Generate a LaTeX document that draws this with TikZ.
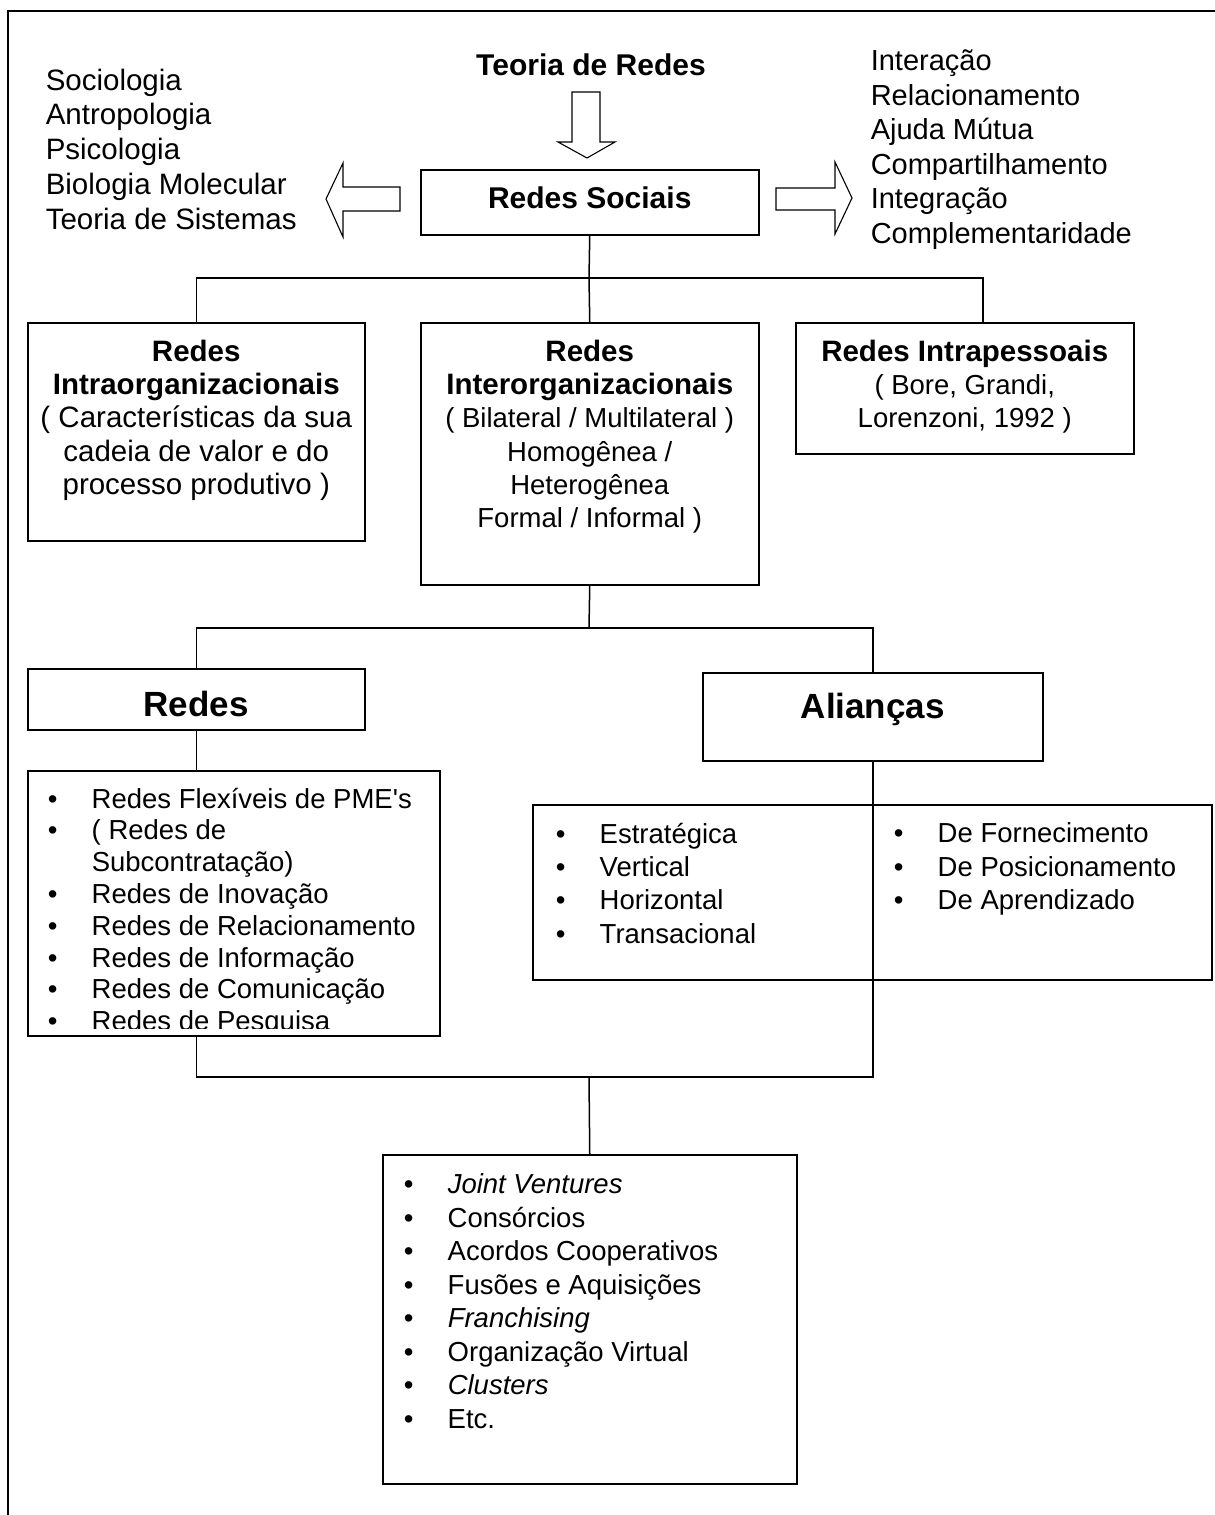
\documentclass[tikz,border=0pt]{standalone}
\usepackage{fontspec}
\setmainfont{Liberation Sans}
\usetikzlibrary{positioning}
\newcommand{\itm}{\makebox[44pt][l]{\textbullet}}
\newcommand{\noitm}{\hspace*{44pt}}
\begin{document}
\begin{tikzpicture}[x=1pt, y=-1pt, line width=1.5pt,
    box/.style = {draw, rectangle, inner sep=0pt, anchor=north west},
    txt/.style = {inner sep=0pt, align=center,
      font=\fontsize{29.5}{33.3}\selectfont},
    lst/.style = {inner sep=0pt, align=left, anchor=north west,
      font=\fontsize{27.5}{33.4}\selectfont},
    big/.style = {inner sep=0pt, font=\fontsize{35}{40}\selectfont\bfseries},
    blockarrow/.style = {draw, line width=1.1pt, line join=miter}]
    \useasboundingbox (0,0) rectangle (1215,1515);
    \draw[line width=2pt] (1215,11) -- (8,11) -- (8,1515);

    \node[txt, font=\fontsize{30}{34}\selectfont\bfseries] (teoria) at (591,65) {Teoria de Redes};
    \node[box, minimum width=338pt, minimum height=65pt] (sociais) at (420,169) {};
    \node[txt, font=\fontsize{30}{34}\selectfont\bfseries] (sociaistxt) at ([yshift=4pt]sociais.center) {Redes Sociais};
    \node[txt, align=left, anchor=north west, font=\fontsize{29.5}{34.8}\selectfont] (ciencias) at (45,68)
      {Sociologia\\Antropologia\\Psicologia\\Biologia Molecular\\Teoria de Sistemas};
    \node[txt, align=left, anchor=north west, font=\fontsize{29}{34.6}\selectfont] (valores) at (870,49)
      {Interação\\Relacionamento\\Ajuda Mútua\\Compartilhamento\\Integração\\Complementaridade};

    \draw[blockarrow] (572,92) -- (600,92) -- (600,142) -- (615,142) -- (587,158) -- (558,142) -- (572,142) -- cycle;
    \draw[blockarrow] (400,187) -- (400,211) -- (343,211) -- (343,237) -- (326,199) -- (343,163) -- (343,187) -- cycle;
    \draw[blockarrow] (776,188) -- (835,188) -- (835,162) -- (852,198) -- (835,234) -- (835,210) -- (776,210) -- cycle;

    \node[box, minimum width=337pt, minimum height=218pt] (intra) at (27,322) {};
    \node[txt, anchor=north] (intratxt) at ([yshift=-17pt]intra.north)
      {\textbf{Redes}\\\textbf{Intraorganizacionais}\\( Características da sua\\cadeia de valor e do\\processo produtivo )};
    \node[box, minimum width=338pt, minimum height=262pt] (inter) at (420,322) {};
    \node[txt, anchor=north] (intertxt) at ([yshift=-17pt]inter.north)
      {\textbf{Redes}\\\textbf{Interorganizacionais}\\{\fontsize{27.5}{33.3}\selectfont( Bilateral / Multilateral )}\\
       {\fontsize{27.5}{33.3}\selectfont Homogênea /}\\{\fontsize{27.5}{33.3}\selectfont Heterogênea}\\
       {\fontsize{27.5}{33.3}\selectfont Formal / Informal )}};
    \node[box, minimum width=338pt, minimum height=131pt] (intrap) at (795,322) {};
    \node[txt, anchor=north] (intraptxt) at ([yshift=-17pt]intrap.north)
      {\textbf{Redes Intrapessoais}\\{\fontsize{27.5}{33.3}\selectfont( Bore, Grandi,}\\{\fontsize{27.5}{33.3}\selectfont Lorenzoni, 1992 )}};

    \coordinate (bus1) at (589,278);
    \coordinate (tapa) at ([xshift=18pt]intrap.north);
    \draw (sociais.south) -- (bus1);
    \draw (intra.north) |- (tapa |- bus1) -- (tapa);
    \draw (inter.north) -- (bus1);

    \node[box, minimum width=337pt, minimum height=61pt] (redes) at (27,668) {};
    \node[big] (redestxt) at ([yshift=-4.5pt]redes.center) {Redes};
    \node[box, minimum width=340pt, minimum height=88pt] (alian) at (702,672) {};
    \node[big, anchor=north] (aliantxt) at ([yshift=-20pt]alian.north) {Alianças};

    \coordinate (bus2) at (589,628);
    \draw (inter.south) -- (bus2);
    \draw (redes.north) |- (alian.north |- bus2) -- (alian.north);

    \node[box, minimum width=412pt, minimum height=265pt] (redeslist) at (27,770) {};
    \begin{scope}
      \clip ([yshift=8pt]redeslist.south west) rectangle (redeslist.north east);
      \node[lst, font=\fontsize{27.5}{31.8}\selectfont] (redesitens) at ([xshift=20pt, yshift=-17pt]redeslist.north west)
        {\itm Redes Flexíveis de PME\textquotesingle s\\\itm ( Redes de\\\noitm Subcontratação)\\\itm Redes de Inovação\\
         \itm Redes de Relacionamento\\\itm Redes de Informação\\\itm Redes de Comunicação\\\itm Redes de Pesquisa};
    \end{scope}

    \node[box, minimum width=679pt, minimum height=175pt] (alianlist) at (532,804) {};
    \node[lst] (tipos) at ([xshift=23pt, yshift=-18pt]alianlist.north west)
      {\itm Estratégica\\\itm Vertical\\\itm Horizontal\\\itm Transacional};
    \node[lst] (fins) at ([xshift=361pt, yshift=-18pt]alianlist.north west)
      {\itm De Fornecimento\\\itm De Posicionamento\\\itm De Aprendizado};

    \node[box, minimum width=414pt, minimum height=329pt] (final) at (382,1154) {};
    \node[lst, font=\fontsize{27.5}{33.5}\selectfont] (formas) at ([xshift=21pt, yshift=-19pt]final.north west)
      {\itm \textit{Joint Ventures}\\\itm Consórcios\\\itm Acordos Cooperativos\\\itm Fusões e Aquisições\\
       \itm \textit{Franchising}\\\itm Organização Virtual\\\itm \textit{Clusters}\\\itm Etc.};

    \coordinate (bus3) at (589,1077);
    \draw (redes.south) -- (redes.south |- redeslist.north);
    \draw (redes.south |- redeslist.south) |- (alian.south |- bus3) -- (alian.south);
    \draw (final.north) -- (bus3);
\end{tikzpicture}
\end{document}
